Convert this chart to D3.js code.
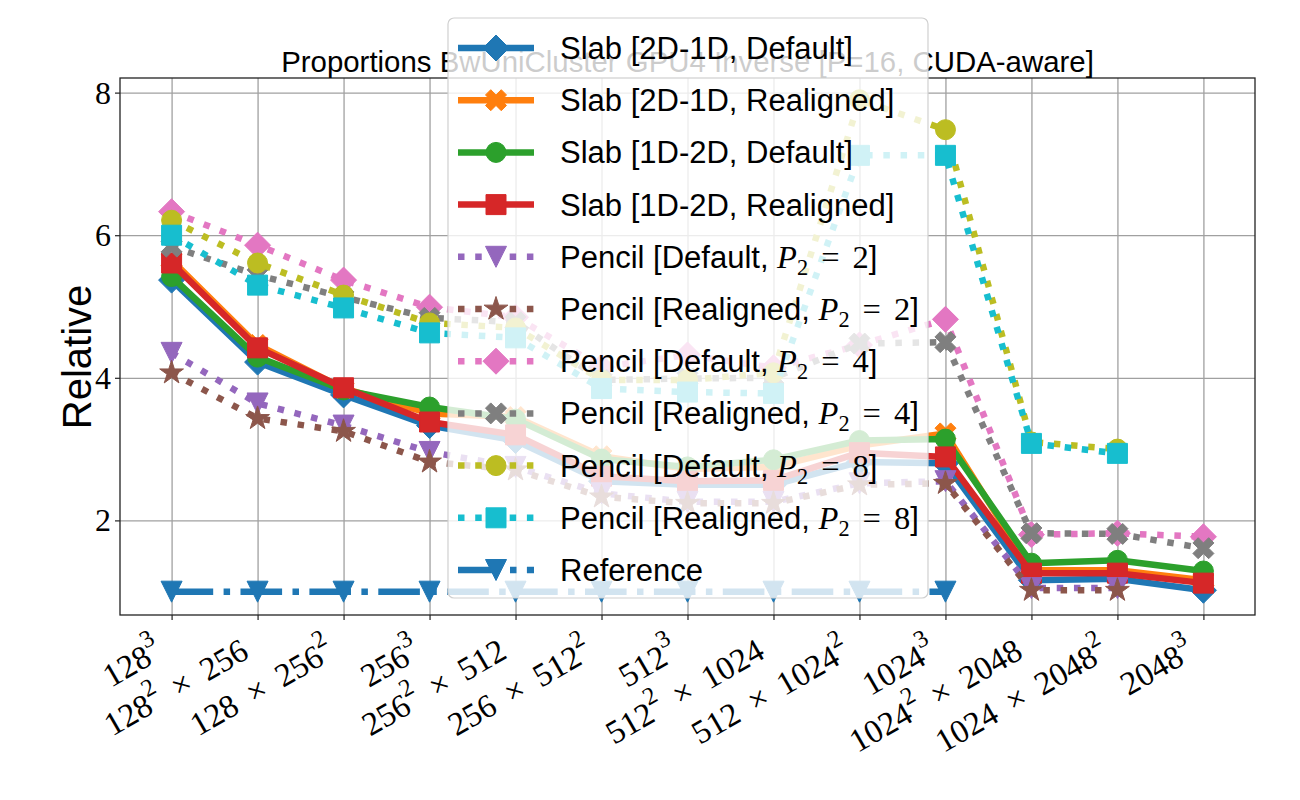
<!DOCTYPE html>
<html><head><meta charset="utf-8">
<script src="https://cdn.jsdelivr.net/npm/d3@7"></script>
<style>body{margin:0;background:#fff} svg{display:block}</style>
</head><body>
<svg id="chart" width="1300" height="800"></svg>
<script>
// ---------------- data ----------------
const categories = ["128^3", "128^2 × 256", "128 × 256^2", "256^3", "256^2 × 512", "256 × 512^2",
  "512^3", "512^2 × 1024", "512 × 1024^2", "1024^3", "1024^2 × 2048", "1024 × 2048^2", "2048^3"];
const yTicks = [2, 4, 6, 8];
const titleText = "Proportions BwUniCluster GPU4 Inverse [P=16, CUDA-aware]";
const yLabel = "Relative";

const slab2D1DDefault   = [5.37, 4.22, 3.76, 3.33, 3.12, 2.55, 2.50, 2.50, 2.82, 2.80, 1.16, 1.18, 1.02];
const slab2D1DRealigned = [5.65, 4.46, 3.85, 3.50, 3.45, 2.90, 2.72, 2.75, 3.05, 3.22, 1.30, 1.30, 1.16];
const slab1D2DDefault   = [5.42, 4.29, 3.83, 3.59, 3.42, 2.86, 2.75, 2.85, 3.12, 3.14, 1.40, 1.44, 1.29];
const slab1D2DRealigned = [5.61, 4.42, 3.86, 3.38, 3.20, 2.62, 2.55, 2.56, 2.95, 2.89, 1.26, 1.26, 1.12];
const pencilDefault2    = [4.35, 3.64, 3.33, 2.96, 2.75, 2.38, 2.26, 2.26, 2.52, 2.55, 1.05, 1.05, null];
const pencilRealigned2  = [4.07, 3.43, 3.25, 2.82, 2.71, 2.33, 2.24, 2.24, 2.50, 2.52, 1.02, 1.02, null];
const pencilDefault4    = [6.33, 5.86, 5.37, 4.99, 4.85, 4.15, 4.32, 4.14, 4.46, 4.82, 1.80, 1.82, 1.77];
const pencilRealigned4  = [5.84, 5.44, 5.13, 4.84, 4.78, 3.97, 3.99, 4.00, 4.48, 4.50, 1.82, 1.81, 1.61];
const pencilDefault8    = [6.21, 5.61, 5.16, 4.77, 4.70, 3.97, 3.97, 4.07, 7.90, 7.48, 3.10, 3.00, null];
const pencilRealigned8  = [6.00, 5.30, 4.98, 4.63, 4.56, 3.85, 3.80, 3.78, 7.12, 7.12, 3.08, 2.94, null];
const reference         = [1, 1, 1, 1, 1, 1, 1, 1, 1, 1, null, null, null];

const seriesNames = ["Slab [2D-1D, Default]", "Slab [2D-1D, Realigned]", "Slab [1D-2D, Default]",
  "Slab [1D-2D, Realigned]", "Pencil [Default, $P_2 = 2$]", "Pencil [Realigned, $P_2 = 2$]",
  "Pencil [Default, $P_2 = 4$]", "Pencil [Realigned, $P_2 = 4$]", "Pencil [Default, $P_2 = 8$]",
  "Pencil [Realigned, $P_2 = 8$]", "Reference"];
const seriesValues = [slab2D1DDefault, slab2D1DRealigned, slab1D2DDefault, slab1D2DRealigned,
  pencilDefault2, pencilRealigned2, pencilDefault4, pencilRealigned4, pencilDefault8, pencilRealigned8, reference];

// ---------------- styles ----------------
const colors = ["#1f77b4", "#ff7f0e", "#2ca02c", "#d62728", "#9467bd", "#8c564b", "#e377c2", "#7f7f7f", "#bcbd22", "#17becf", "#1f77b4"];
const markers = ["diamond", "xfill", "circle", "square", "tridown", "star", "diamond", "xfill", "circle", "square", "tridown"];
const dashes = ["solid", "solid", "solid", "solid", "dot", "dot", "dot", "dot", "dot", "dot", "dashdot"];
const LW = 6.5;
const dashArr = { solid: null, dot: `${LW},${LW * 1.65}`, dashdot: `${LW * 6.4},${LW * 1.6},${LW},${LW * 1.6}` };

const sansFont = "'Liberation Sans', Arial, sans-serif";
const serifFont = "'Liberation Serif', 'Times New Roman', serif";

function markerPath(type) {
  if (type === "circle") { const r = 10; return `M${r},0A${r},${r} 0 1,1 ${-r},0A${r},${r} 0 1,1 ${r},0Z`; }
  if (type === "square") { const h = 10; return `M${-h},${-h}H${h}V${h}H${-h}Z`; }
  if (type === "diamond") { const r = 13; return `M0,${-r}L${r},0L0,${r}L${-r},0Z`; }
  if (type === "tridown") { const h = 10.5; return `M${-h},${-h}L${h},${-h}L0,${h}Z`; }
  if (type === "star") {
    const R = 12.5, r = R * 0.381966; let p = [];
    for (let i = 0; i < 10; i++) { const a = -Math.PI / 2 + i * Math.PI / 5; const rr = i % 2 ? r : R; p.push([rr * Math.cos(a), rr * Math.sin(a)]); }
    return "M" + p.map(q => q[0].toFixed(2) + "," + q[1].toFixed(2)).join("L") + "Z";
  }
  if (type === "xfill") {
    const s = 21; const pts = [[0.25,0],[0.5,0.25],[0.75,0],[1,0.25],[0.75,0.5],[1,0.75],[0.75,1],[0.5,0.75],[0.25,1],[0,0.75],[0.25,0.5],[0,0.25]];
    return "M" + pts.map(q => ((q[0] - 0.5) * s).toFixed(2) + "," + ((q[1] - 0.5) * s).toFixed(2)).join("L") + "Z";
  }
}

// ---------------- layout ----------------
const svg = d3.select("#chart");
const L = 120, R = 1255, T = 78, B = 615;
const x = d3.scaleLinear().domain([-0.6, 12.6]).range([L, R]);
const y = d3.scaleLinear().domain([0.673, 8.205]).range([B, T]);

svg.append("rect").attr("width", 1300).attr("height", 800).attr("fill", "#fff");
svg.append("defs").append("clipPath").attr("id", "clip").append("rect")
  .attr("x", L).attr("y", T).attr("width", R - L).attr("height", B - T);

// grid
const grid = svg.append("g");
grid.append("g").attr("transform", `translate(0,${B})`)
  .call(d3.axisBottom(x).tickValues(d3.range(categories.length)).tickSize(-(B - T)).tickFormat(""))
  .call(g => g.select(".domain").remove())
  .call(g => g.selectAll("line").attr("stroke", "#a0a0a0").attr("stroke-width", 1.3));
grid.append("g").attr("transform", `translate(${L},0)`)
  .call(d3.axisLeft(y).tickValues(yTicks).tickSize(-(R - L)).tickFormat(""))
  .call(g => g.select(".domain").remove())
  .call(g => g.selectAll("line").attr("stroke", "#a0a0a0").attr("stroke-width", 1.3));

// series
const plot = svg.append("g").attr("clip-path", "url(#clip)");
const line = d3.line().defined(d => d.v != null).x(d => x(d.i)).y(d => y(d.v));
seriesValues.forEach((vals, k) => {
  const pts = vals.map((v, i) => ({ i, v }));
  const g = plot.append("g");
  g.append("path").datum(pts).attr("d", line).attr("fill", "none")
    .attr("stroke", colors[k]).attr("stroke-width", LW)
    .attr("stroke-linejoin", "round")
    .attr("stroke-dasharray", dashArr[dashes[k]]);
  g.selectAll("path.m").data(pts.filter(d => d.v != null)).join("path").attr("class", "m")
    .attr("d", markerPath(markers[k]))
    .attr("transform", d => `translate(${x(d.i)},${y(d.v)})`)
    .attr("fill", colors[k]).attr("stroke", colors[k]).attr("stroke-width", 1);
});

// axes frame
svg.append("rect").attr("x", L).attr("y", T).attr("width", R - L).attr("height", B - T)
  .attr("fill", "none").attr("stroke", "#222").attr("stroke-width", 1.3);

// x axis ticks & labels
const xAxis = svg.append("g").attr("transform", `translate(0,${B})`)
  .call(d3.axisBottom(x).tickValues(d3.range(categories.length)).tickSize(5).tickFormat(""));
xAxis.select(".domain").remove();
xAxis.selectAll("line").attr("stroke", "#222").attr("stroke-width", 1.2);

const XFS = 33;
function mathLabel(textSel, str, fs) {
  const parts = str.split(/(\^\d+)/);
  let raised = false;
  parts.forEach(p => {
    if (!p) return;
    if (p[0] === "^") {
      textSel.append("tspan").attr("dy", -fs * 0.5).attr("font-size", fs * 0.75).text(p.slice(1));
      raised = true;
    } else {
      const t = textSel.append("tspan").text(p.replace(" × ", " \u2009×\u2009 "));
      if (raised) { t.attr("dy", fs * 0.5); raised = false; }
    }
  });
}
categories.forEach((c, i) => {
  const ex = x(i) - 7, ey = 657;
  const t = svg.append("text").attr("x", ex).attr("y", ey)
    .attr("transform", `rotate(-30,${ex},${ey})`)
    .attr("text-anchor", "end").attr("font-family", serifFont).attr("font-size", XFS).attr("fill", "#000");
  mathLabel(t, c, XFS);
});

// y axis ticks & labels
const yAxis = svg.append("g").attr("transform", `translate(${L},0)`)
  .call(d3.axisLeft(y).tickValues(yTicks).tickSize(5).tickFormat(""));
yAxis.select(".domain").remove();
yAxis.selectAll("line").attr("stroke", "#222").attr("stroke-width", 1.2);
svg.append("g").selectAll("text").data(yTicks).join("text")
  .attr("x", 111).attr("y", d => y(d) + 11).attr("text-anchor", "end")
  .attr("font-family", serifFont).attr("font-size", 32).attr("fill", "#000").text(d => d);

// y label
svg.append("text").attr("transform", "translate(91,357) rotate(-90)").attr("text-anchor", "middle")
  .attr("font-family", sansFont).attr("font-size", 40).attr("fill", "#000").text(yLabel);

// title
svg.append("text").attr("x", (L + R) / 2).attr("y", 72).attr("text-anchor", "middle")
  .attr("font-family", sansFont).attr("font-size", 29.4).attr("fill", "#000").text(titleText);

// legend
const leg = svg.append("g");
leg.append("rect").attr("x", 448).attr("y", 18).attr("width", 480).attr("height", 580).attr("rx", 6)
  .attr("fill", "#fff").attr("fill-opacity", 0.8).attr("stroke", "#d0d0d0").attr("stroke-width", 1.2);
const LFS = 31;
seriesNames.forEach((name, k) => {
  const ry = 48 + 52.2 * k;
  const g = leg.append("g");
  g.append("path").attr("d", `M458,${ry}H534`).attr("stroke", colors[k]).attr("stroke-width", LW)
    .attr("fill", "none").attr("stroke-dasharray", dashArr[dashes[k]]);
  g.append("path").attr("d", markerPath(markers[k])).attr("transform", `translate(496,${ry})`)
    .attr("fill", colors[k]).attr("stroke", colors[k]).attr("stroke-width", 1);
  const t = g.append("text").attr("x", 560).attr("y", ry + 11).attr("font-family", sansFont)
    .attr("font-size", LFS).attr("fill", "#000");
  const segs = name.split(/\$(.*?)\$/);
  segs.forEach((s, j) => {
    if (!s) return;
    if (j % 2 === 0) { t.append("tspan").text(s); }
    else {
      // math: P_2 = n
      const m = s.match(/^(\w)_(\w)(.*)$/);
      t.append("tspan").attr("font-family", serifFont).attr("font-style", "italic").attr("font-size", LFS * 1.05).text(m[1]);
      t.append("tspan").attr("font-family", serifFont).attr("font-size", LFS * 0.72).attr("dy", 7).text(m[2]);
      t.append("tspan").attr("font-family", serifFont).attr("font-size", LFS * 1.05).attr("dy", -7).text(m[3].replace(/ /g, "\u2009\u2009"));
    }
  });
});
</script>
</body></html>
